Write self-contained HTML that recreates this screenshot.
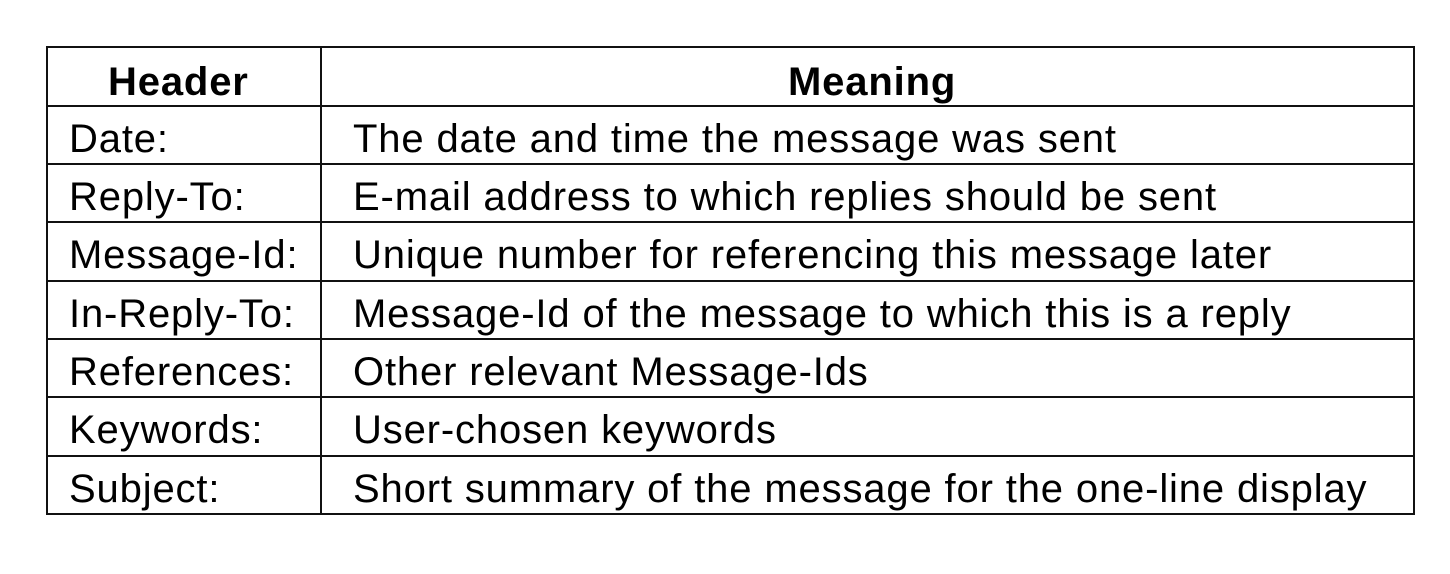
<!DOCTYPE html>
<html><head><style>
body{margin:0;width:1450px;height:574px;background:#fff;position:relative;overflow:hidden;font-family:"Liberation Sans",Arial,sans-serif;color:#000}
.l{position:absolute;background:#111}
.t{position:absolute;font-size:40px;line-height:40px;white-space:nowrap;letter-spacing:0.85px}
.b{font-weight:bold}
</style></head><body>
<div class="l" style="left:46px;top:46px;width:1369px;height:2px"></div>
<div class="l" style="left:46px;top:513px;width:1369px;height:2px"></div>
<div class="l" style="left:46px;top:46px;width:2px;height:469px"></div>
<div class="l" style="left:1413px;top:46px;width:2px;height:469px"></div>
<div class="l" style="left:320px;top:46px;width:2px;height:469px"></div>
<div class="l" style="left:46px;top:105px;width:1369px;height:2px"></div>
<div class="l" style="left:46px;top:163px;width:1369px;height:2px"></div>
<div class="l" style="left:46px;top:221px;width:1369px;height:2px"></div>
<div class="l" style="left:46px;top:280px;width:1369px;height:2px"></div>
<div class="l" style="left:46px;top:338px;width:1369px;height:2px"></div>
<div class="l" style="left:46px;top:396px;width:1369px;height:2px"></div>
<div class="l" style="left:46px;top:455px;width:1369px;height:2px"></div>

<div class="t b" style="left:108px;top:62px">Header</div>
<div class="t b" style="left:788px;top:62px">Meaning</div>

<div class="t" style="left:69px;top:119px">Date:</div>
<div class="t" style="left:353px;top:119px">The date and time the message was sent</div>
<div class="t" style="left:69px;top:177px">Reply-To:</div>
<div class="t" style="left:353px;top:177px">E-mail address to which replies should be sent</div>
<div class="t" style="left:69px;top:235px">Message-Id:</div>
<div class="t" style="left:353px;top:235px">Unique number for referencing this message later</div>
<div class="t" style="left:69px;top:294px">In-Reply-To:</div>
<div class="t" style="left:353px;top:294px">Message-Id of the message to which this is a reply</div>
<div class="t" style="left:69px;top:352px">References:</div>
<div class="t" style="left:353px;top:352px">Other relevant Message-Ids</div>
<div class="t" style="left:69px;top:410px">Keywords:</div>
<div class="t" style="left:353px;top:410px">User-chosen keywords</div>
<div class="t" style="left:69px;top:469px">Subject:</div>
<div class="t" style="left:353px;top:469px">Short summary of the message for the one-line display</div>
</body></html>
